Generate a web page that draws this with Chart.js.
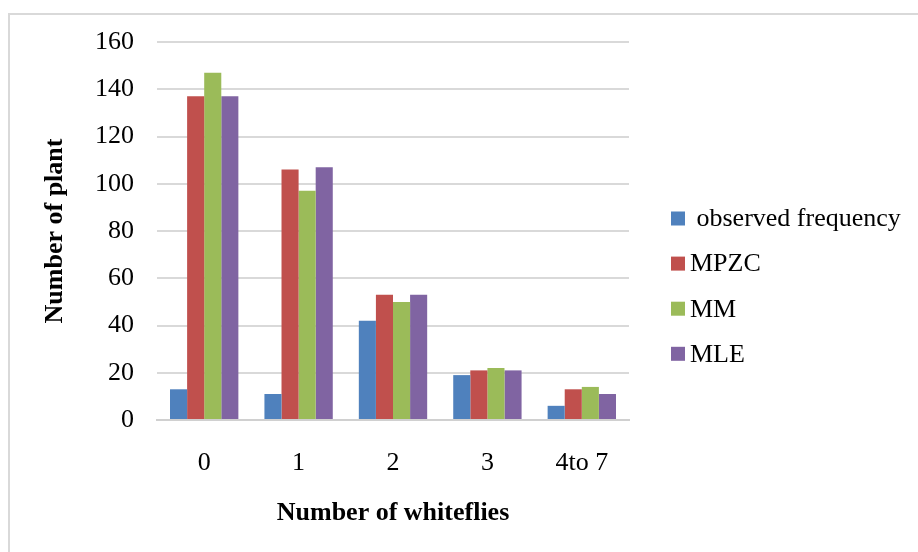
<!DOCTYPE html>
<html>
<head>
<meta charset="utf-8">
<script src="https://cdn.jsdelivr.net/npm/chart.js@4/dist/chart.umd.min.js"></script>
<style>
  html, body { margin: 0; padding: 0; background: #ffffff; }
  #wrap { width: 918px; height: 552px; position: relative; }
</style>
</head>
<body>
<div id="wrap"><canvas id="chart" width="918" height="552"></canvas></div>
<script>
// Number of whiteflies per plant: observed counts and fitted frequencies
const categories = ['0', '1', '2', '3', '4to 7'];
const seriesNames = [' observed frequency', 'MPZC', 'MM', 'MLE'];
const observedFrequency = [13, 11, 42, 19, 6];
const mpzc = [137, 106, 53, 21, 13];
const mm = [147, 97, 50, 22, 14];
const mle = [137, 107, 53, 21, 11];
const yTicks = [0, 20, 40, 60, 80, 100, 120, 140, 160];

const seriesColors = ['#4F81BD', '#C0504D', '#9BBB59', '#8064A2'];
const seriesValues = [observedFrequency, mpzc, mm, mle];

const FONT = "'Liberation Serif', 'Times New Roman', serif";

// Outer frame of the chart object
const framePlugin = {
  id: 'frame',
  beforeDraw(chart) {
    const ctx = chart.ctx;
    ctx.save();
    ctx.fillStyle = '#ffffff';
    ctx.fillRect(0, 0, chart.width, chart.height);
    ctx.strokeStyle = '#d9d9d9';
    ctx.lineWidth = 2;
    ctx.strokeRect(9, 14, chart.width + 50, chart.height + 50);
    ctx.restore();
  }
};

// Legend on the right: small square swatch followed by the series name
const sideLegend = {
  id: 'sideLegend',
  afterDraw(chart) {
    const ctx = chart.ctx;
    const boxX = 671, box = 14, firstY = 218.5, step = 45.1, textX = 690;
    ctx.save();
    ctx.font = '26px ' + FONT;
    ctx.textBaseline = 'middle';
    ctx.textAlign = 'left';
    chart.data.datasets.forEach((ds, i) => {
      const cy = firstY + i * step;
      ctx.fillStyle = ds.backgroundColor;
      ctx.fillRect(boxX, cy - box / 2, box, box);
      ctx.fillStyle = '#000000';
      ctx.fillText(ds.label, textX, cy + 1);
    });
    ctx.restore();
  }
};

new Chart(document.getElementById('chart'), {
  type: 'bar',
  data: {
    labels: categories,
    datasets: seriesNames.map((name, i) => ({
      label: name,
      data: seriesValues[i],
      backgroundColor: seriesColors[i],
      borderWidth: 0,
      categoryPercentage: 0.724,
      barPercentage: 1.0
    }))
  },
  options: {
    responsive: false,
    animation: false,
    devicePixelRatio: 1,
    layout: { padding: { left: 40, right: 289, top: 42, bottom: 0 } },
    plugins: {
      legend: { display: false },
      tooltip: { enabled: false }
    },
    scales: {
      x: {
        grid: { display: false, drawTicks: false },
        border: { display: true, color: '#d0d0d0', width: 2 },
        ticks: { color: '#000000', font: { family: FONT, size: 26 }, padding: 28, maxRotation: 0 },
        title: {
          display: true,
          text: 'Number of whiteflies',
          color: '#000000',
          font: { family: FONT, size: 26, weight: 'bold' },
          padding: { top: 0, bottom: 23 }
        },
        afterFit(scale) { scale.height = 132; }
      },
      y: {
        min: 0,
        max: 160,
        afterBuildTicks(scale) { scale.ticks = yTicks.map(v => ({ value: v })); },
        grid: { color: '#d9d9d9', lineWidth: 2, drawTicks: false },
        border: { display: false },
        ticks: { color: '#000000', font: { family: FONT, size: 26 }, padding: 23 },
        title: {
          display: true,
          text: 'Number of plant',
          color: '#000000',
          font: { family: FONT, size: 26, weight: 'bold' },
          padding: { top: 0, bottom: 0 }
        },
        afterFit(scale) { scale.width = 117; }
      }
    }
  },
  plugins: [framePlugin, sideLegend]
});
</script>
</body>
</html>
